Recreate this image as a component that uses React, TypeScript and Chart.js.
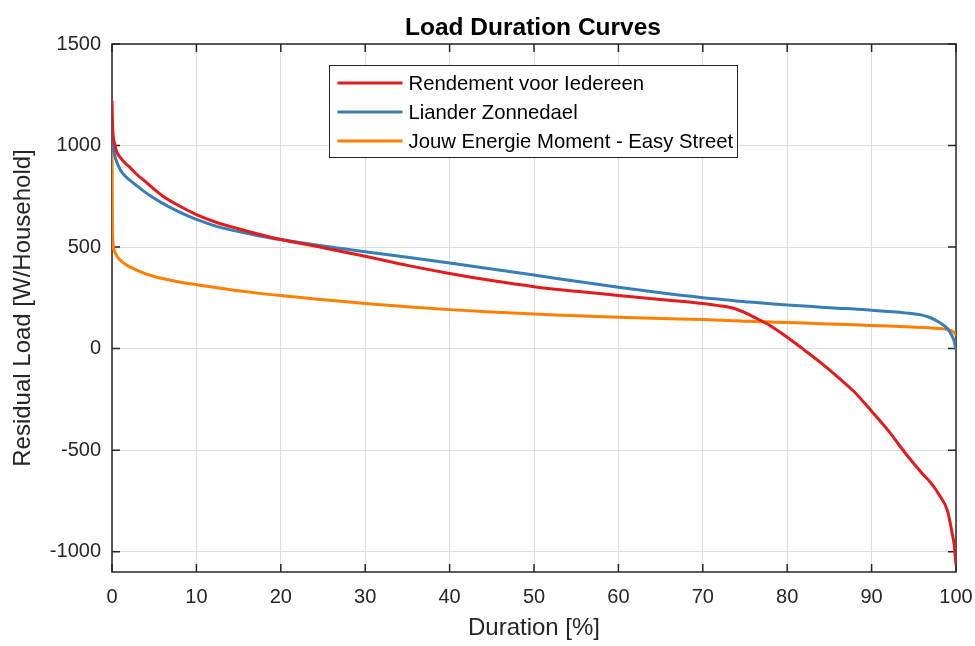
import React, { useEffect, useRef } from 'react';
import { Chart, registerables } from 'chart.js';

Chart.register(...registerables);

// ---- data ----
const durationPct = [
  0, 0.05, 0.1, 0.3, 0.6, 1, 1.5, 2, 3, 4, 5, 6, 8, 10, 12.5, 15, 17.5, 20, 25, 30,
  35, 40, 45, 50, 55, 60, 65, 70, 72, 73, 74, 75, 76, 78, 80, 82, 84, 86, 88, 90, 92, 94,
  96, 97, 98, 99, 99.5, 99.8, 100,
];

const rendementVoorIedereen = [
  1220, 1130, 1070, 1010, 965, 940, 915, 897, 855, 821, 785, 752, 702, 660, 620, 590, 562, 537, 497, 455,
  410, 370, 335, 305, 282, 262, 242, 222, 211, 205, 194, 177, 156, 113, 56, -6, -70, -140, -215, -308, -405, -515,
  -615, -660, -720, -800, -900, -970, -1065,
];

const lianderZonnedael = [
  1130, 1060, 1010, 955, 915, 880, 852, 833, 800, 768, 740, 715, 672, 636, 601, 576, 555, 537, 505, 477,
  450, 422, 392, 362, 332, 302, 275, 251, 243, 239, 235, 231, 228, 221, 215, 210, 204, 199, 195, 189, 183, 176,
  165, 152, 130, 98, 65, 35, -5,
];

const jouwEnergieMoment = [
  1010, 620, 530, 480, 455, 435, 418, 405, 385, 368, 355, 345, 328, 315, 300, 285, 272, 261, 241, 222,
  206, 192, 180, 170, 162, 154, 148, 143, 140, 138, 137, 135, 134, 131, 128, 126, 123, 120, 117, 114, 111, 108,
  104, 102, 99, 94, 87, 79, 68,
];

const seriesLabels = [
  'Rendement voor Iedereen',
  'Liander Zonnedael',
  'Jouw Energie Moment - Easy Street',
];
const seriesColors = ['#e41a1c', '#377eb8', '#ff7f00'];

const xTickValues = [0, 10, 20, 30, 40, 50, 60, 70, 80, 90, 100];
const yTickValues = [-1000, -500, 0, 500, 1000, 1500];
const xRange = [0, 100];
const yRange = [-1100, 1500];

const chartTitle = 'Load Duration Curves';
const xAxisTitle = 'Duration [%]';
const yAxisTitle = 'Residual Load [W/Household]';

const FONT = '"Liberation Sans", Arial, Helvetica, sans-serif';
const INK = '#262626';

const toPoints = (ys: number[]) => durationPct.map((x, i) => ({ x, y: ys[i] }));

const framePlugin = {
  id: 'matlabFrame',
  beforeDatasetsDraw(chart: any) {
    const { ctx, chartArea: a, scales } = chart;
    const x = scales.x;
    const y = scales.y;
    ctx.save();
    ctx.strokeStyle = INK;
    ctx.lineWidth = 1.5;
    ctx.strokeRect(a.left, a.top, a.right - a.left, a.bottom - a.top);
    const tl = 8;
    ctx.beginPath();
    xTickValues.forEach((v) => {
      const px = x.getPixelForValue(v);
      ctx.moveTo(px, a.bottom);
      ctx.lineTo(px, a.bottom - tl);
      ctx.moveTo(px, a.top);
      ctx.lineTo(px, a.top + tl);
    });
    yTickValues.forEach((v) => {
      const py = y.getPixelForValue(v);
      ctx.moveTo(a.left, py);
      ctx.lineTo(a.left + tl, py);
      ctx.moveTo(a.right, py);
      ctx.lineTo(a.right - tl, py);
    });
    ctx.stroke();
    ctx.restore();
  },
  afterDraw(chart: any) {
    const { ctx, chartArea: a } = chart;
    const cx = (a.left + a.right) / 2;
    ctx.save();
    // title
    ctx.fillStyle = '#000';
    ctx.font = `bold 24.5px ${FONT}`;
    ctx.textAlign = 'center';
    ctx.textBaseline = 'alphabetic';
    ctx.fillText(chartTitle, cx - 1, 35);

    // legend
    const boxW = 408;
    const boxH = 92;
    const left = Math.round(cx - boxW / 2) - 0.5;
    const top = a.top + 21.5;
    ctx.fillStyle = '#fff';
    ctx.fillRect(left, top, boxW, boxH);
    ctx.strokeStyle = INK;
    ctx.lineWidth = 1;
    ctx.strokeRect(left, top, boxW, boxH);
    ctx.font = `20.3px ${FONT}`;
    ctx.textAlign = 'left';
    ctx.textBaseline = 'middle';
    chart.data.datasets.forEach((ds: any, i: number) => {
      const ry = top + 17.5 + 29 * i;
      ctx.strokeStyle = ds.borderColor;
      ctx.lineWidth = 3;
      ctx.beginPath();
      ctx.moveTo(left + 8, ry);
      ctx.lineTo(left + 73, ry);
      ctx.stroke();
      ctx.fillStyle = '#000';
      ctx.fillText(ds.label, left + 79, ry + 1.5);
    });
    ctx.restore();
  },
};

export default function App() {
  const canvasRef = useRef<HTMLCanvasElement | null>(null);

  useEffect(() => {
    if (!canvasRef.current) return;
    const seriesValues = [rendementVoorIedereen, lianderZonnedael, jouwEnergieMoment];
    const chart = new Chart(canvasRef.current, {
      type: 'line',
      data: {
        datasets: seriesValues.map((vals, i) => ({
          label: seriesLabels[i],
          data: toPoints(vals),
          borderColor: seriesColors[i],
          backgroundColor: seriesColors[i],
          borderWidth: 3,
          pointRadius: 0,
          pointHoverRadius: 0,
          fill: false,
          cubicInterpolationMode: 'monotone' as const,
        })),
      },
      options: {
        responsive: false,
        animation: false,
        layout: { padding: { top: 44, right: 19, left: 0, bottom: 0 } },
        plugins: {
          legend: { display: false },
          title: { display: false },
          tooltip: { enabled: false },
        },
        scales: {
          x: {
            type: 'linear',
            min: xRange[0],
            max: xRange[1],
            afterBuildTicks: (scale: any) => {
              scale.ticks = xTickValues.map((value) => ({ value }));
            },
            afterFit: (scale: any) => {
              scale.height = 74;
              scale.paddingLeft = 0;
              scale.paddingRight = 0;
            },
            ticks: {
              autoSkip: false,
              maxRotation: 0,
              padding: 13,
              color: INK,
              font: { family: FONT, size: 20 },
              callback: (v: any) => String(v),
            },
            grid: { color: '#dedede', lineWidth: 1, drawTicks: false },
            border: { display: false },
            title: {
              display: true,
              text: xAxisTitle,
              color: INK,
              font: { family: FONT, size: 24 },
              padding: { top: 0, bottom: 3 },
            },
          },
          y: {
            type: 'linear',
            min: yRange[0],
            max: yRange[1],
            afterBuildTicks: (scale: any) => {
              scale.ticks = yTickValues.map((value) => ({ value }));
            },
            afterFit: (scale: any) => {
              scale.width = 112;
              scale.paddingTop = 0;
              scale.paddingBottom = 0;
            },
            ticks: {
              autoSkip: false,
              padding: 11,
              color: INK,
              font: { family: FONT, size: 20 },
              callback: (v: any) => String(v),
            },
            grid: { color: '#dedede', lineWidth: 1, drawTicks: false },
            border: { display: false },
            title: {
              display: true,
              text: yAxisTitle,
              color: INK,
              font: { family: FONT, size: 24 },
              padding: { top: 9, bottom: 0 },
            },
          },
        },
      },
      plugins: [framePlugin],
    });
    return () => chart.destroy();
  }, []);

  return (
    <div style={{ position: 'absolute', left: 0, top: 0, width: 975, height: 646, background: '#fff' }}>
      <canvas ref={canvasRef} width={975} height={646} />
    </div>
  );
}
